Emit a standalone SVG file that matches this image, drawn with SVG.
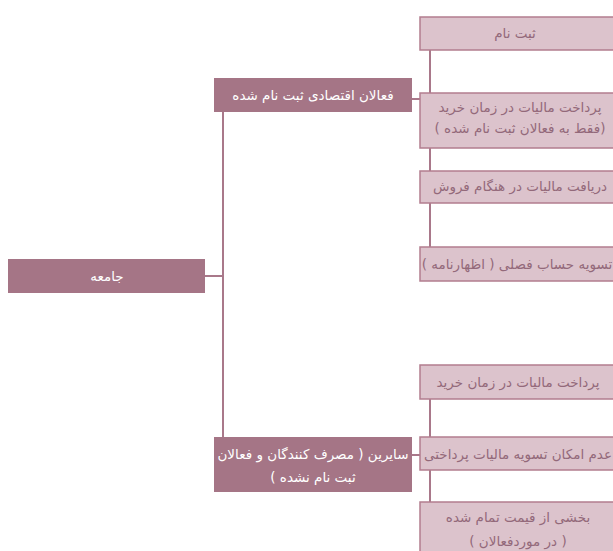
<svg xmlns="http://www.w3.org/2000/svg" width="613" height="551" viewBox="0 0 613 551">
<style>
.dark{fill:#a57586;}
.leaf{fill:#dcc3cc;stroke:#b27d8f;stroke-width:1.5;}
.conn{stroke:#a9788a;stroke-width:2;fill:none;}
text{font-family:"DejaVu Sans","Noto Sans",sans-serif;font-size:13.5px;text-anchor:middle;direction:rtl;unicode-bidi:embed;}
.wt{fill:#ffffff;}
.lt{fill:#93697a;}
</style>
<rect width="613" height="551" fill="#ffffff"/>
<g id="connectors">
<path class="conn" d="M205,276 H223 M223,112 V437"/>
<path class="conn" d="M412,99 H420 M430,50 V247"/>
<path class="conn" d="M412,455 H420 M430,399 V502"/>
</g>
<g id="n-root">
<rect class="dark" x="8" y="259" width="197" height="34"/>
<text class="wt" x="107" y="281">جامعه</text>
</g>
<g id="n-registered">
<rect class="dark" x="214" y="78" width="198" height="34"/>
<text class="wt" x="313" y="100">فعالان اقتصادی ثبت نام شده</text>
</g>
<g id="n-others">
<rect class="dark" x="214" y="437" width="198" height="55"/>
<text class="wt" x="313" y="459">سایرین ( مصرف کنندگان و فعالان</text>
<text class="wt" x="313" y="482">ثبت نام نشده )</text>
</g>
<g id="n-l1">
<rect class="leaf" x="420" y="17" width="200" height="33"/>
<text class="lt" x="515" y="38">ثبت نام</text>
</g>
<g id="n-l2">
<rect class="leaf" x="420" y="93" width="200" height="55"/>
<text class="lt" x="520" y="112">پرداخت مالیات در زمان خرید</text>
<text class="lt" x="520" y="133">(فقط به فعالان ثبت نام شده )</text>
</g>
<g id="n-l3">
<rect class="leaf" x="420" y="171" width="200" height="32"/>
<text class="lt" x="520" y="191">دریافت مالیات در هنگام فروش</text>
</g>
<g id="n-l4">
<rect class="leaf" x="420" y="247" width="200" height="34"/>
<text class="lt" x="517" y="269">تسویه حساب فصلی ( اظهارنامه )</text>
</g>
<g id="n-l5">
<rect class="leaf" x="420" y="365" width="200" height="34"/>
<text class="lt" x="518" y="387">پرداخت مالیات در زمان خرید</text>
</g>
<g id="n-l6">
<rect class="leaf" x="420" y="437" width="200" height="33"/>
<text class="lt" x="518" y="459">عدم امکان تسویه مالیات پرداختی</text>
</g>
<g id="n-l7">
<rect class="leaf" x="420" y="502" width="200" height="60"/>
<text class="lt" x="518" y="522">بخشی از قیمت تمام شده</text>
<text class="lt" x="518" y="546">( در موردفعالان )</text>
</g>
</svg>
